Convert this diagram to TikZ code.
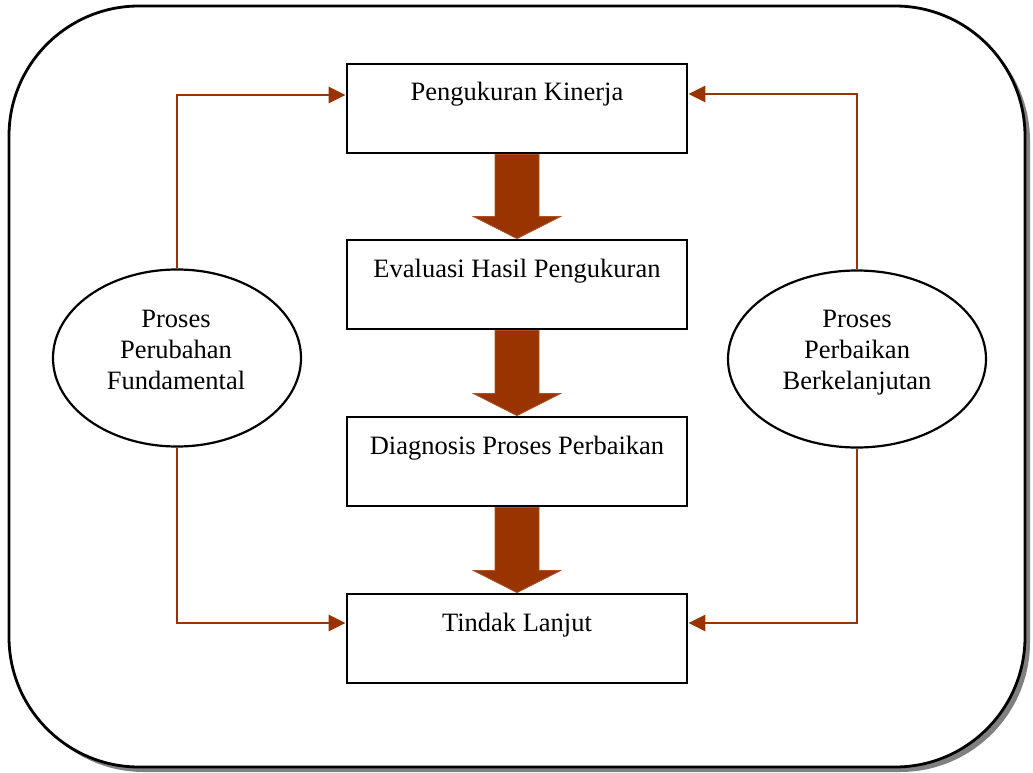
\documentclass[tikz,border=0pt]{standalone}
\usepackage{fontspec}
\setmainfont{Liberation Serif}
\usetikzlibrary{shapes.geometric,arrows.meta,calc}
\definecolor{brn}{HTML}{993300}
\definecolor{shad}{HTML}{808080}
\begin{document}
\begin{tikzpicture}[x=1pt,y=-1pt,
  box/.style={draw=black,line width=2.8pt,minimum width=340pt,minimum height=89pt,inner sep=0pt,fill=white},
  ell/.style={draw=black,line width=2.2pt,ellipse,inner sep=0pt,minimum width=248pt,minimum height=177pt},
  txt/.style={font=\fontsize{26.5}{31}\selectfont,anchor=base,inner sep=0pt},
  ltxt/.style={font=\fontsize{26.5}{31}\selectfont,align=center,inner sep=0pt},
  conn/.style={draw=brn,line width=2.8pt,line join=miter,-{Triangle[length=17pt,width=16pt]}},
  blk/.style={fill=brn,draw=brn!85!white,line width=0.8pt}
]
\useasboundingbox (0,0) rectangle (1033,773);
% outer frame with shadow
\fill[shad,rounded corners=130pt] (14,11) rectangle (1030,772);
\draw[line width=2.8pt,fill=white,rounded corners=130pt] (9,6) rectangle (1025,767);
% boxes
\node[box] (pk) at (517,108.5) {};
\node[box] (ev) at (517,284.5) {};
\node[box] (dp) at (517,461.5) {};
\node[box] (tl) at (517,638.5) {};
\node[txt] (pkt) at (517,101) {Pengukuran Kinerja};
\node[txt] (evt) at (517,277) {Evaluasi Hasil Pengukuran};
\node[txt] (dpt) at (517,454) {Diagnosis Proses Perbaikan};
\node[txt] (tlt) at (517,631) {Tindak Lanjut};
% ellipses
\node[ell] (fe) at (177,358) {};
\node[ell,minimum width=258pt] (pb) at (857,359) {};
\node[ltxt] (fet) at (176,350) {Proses\\Perubahan\\Fundamental};
\node[ltxt] (pbt) at (857,353) {Proses\\Perbaikan\\Berkelanjutan};
% connectors
\draw[conn] (fe.north) |- ($(pk.west)+(0,-13.5)$);
\draw[conn] (fe.south) |- ($(tl.west)+(0,-15.5)$);
\draw[conn] (pb.north) |- ($(pk.east)+(0,-14.5)$);
\draw[conn] (pb.south) |- ($(tl.east)+(0,-15.5)$);
% block arrows
\foreach \a/\b in {pk/ev,ev/dp,dp/tl}{
  \filldraw[blk] ($(\a.south)+(-22,0)$) -- ($(\b.north)+(-22,-22)$) -- ($(\b.north)+(-43.5,-22)$) -- (\b.north)
    -- ($(\b.north)+(43.5,-22)$) -- ($(\b.north)+(22,-22)$) -- ($(\a.south)+(22,0)$) -- cycle;
}
\end{tikzpicture}
\end{document}
